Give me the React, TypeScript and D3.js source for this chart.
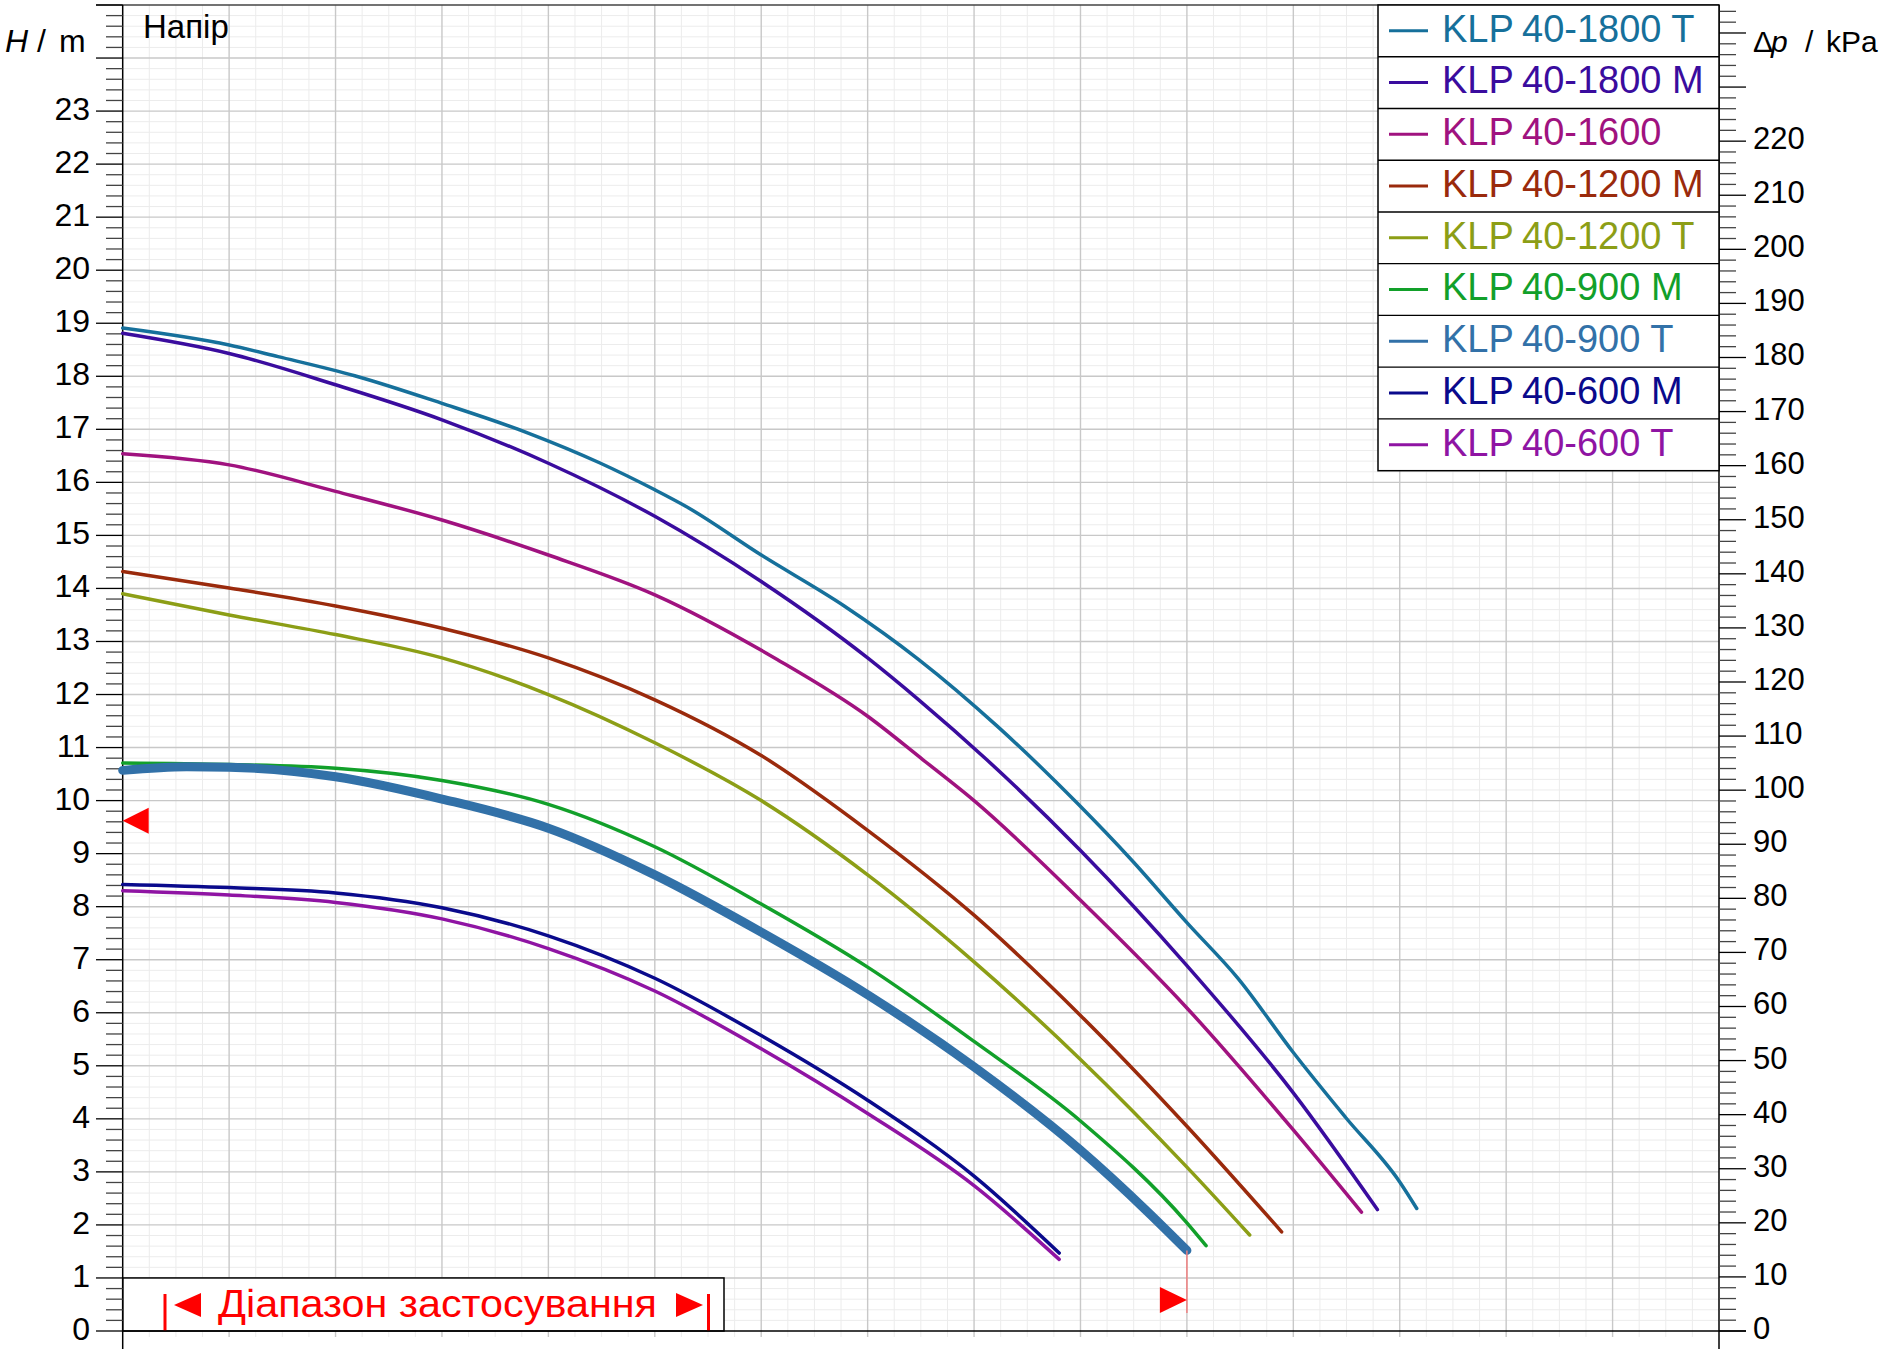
import React from "react";
import * as d3 from "d3";

const FONT = '"Liberation Sans", Arial, sans-serif';

// x: flow (no labels in the source), y: head in m
const qMax = 15;
const hMax = 25;
const kPaPerM = 9.807;

const leftLabels = d3.range(0, 24); // 0..23
const rightLabels = d3.range(0, 230, 10); // 0..220

// curves
const q1800T = [0, 1, 1.46, 2.18, 3, 3.81, 4.48, 5, 5.29, 6, 6.78, 7.48, 8.22, 8.98, 9.48, 10, 10.48, 11, 11.49, 12, 12.16];
const h1800T = [18.91, 18.59, 18.37, 18.01, 17.49, 16.93, 16.37, 15.86, 15.55, 14.63, 13.67, 12.66, 11.4, 9.93, 8.88, 7.7, 6.65, 5.25, 4.03, 2.81, 2.31];

const q1800M = [0, 1, 2, 3, 4, 5, 6, 7, 7.48, 8.12, 9, 10, 11, 11.79];
const h1800M = [18.81, 18.43, 17.84, 17.18, 16.36, 15.36, 14.13, 12.69, 11.9, 10.77, 9.06, 6.89, 4.49, 2.29];

const q1600 = [0, 1, 2, 3, 4, 5, 6.15, 7, 7.52, 8, 9, 10, 11, 11.64];
const h1600 = [16.54, 16.33, 15.83, 15.29, 14.63, 13.88, 12.66, 11.59, 10.77, 10.0, 8.12, 6.09, 3.79, 2.24];

const q1200M = [0, 1, 2, 3, 4, 5, 6, 7, 8, 9, 10, 10.89];
const h1200M = [14.32, 14.01, 13.67, 13.25, 12.69, 11.9, 10.85, 9.44, 7.84, 5.95, 3.86, 1.87];

const q1200T = [0, 1, 2, 3, 4, 5, 6, 7, 8, 9, 10, 10.59];
const h1200T = [13.9, 13.5, 13.13, 12.69, 12.0, 11.09, 10.0, 8.6, 6.96, 5.12, 3.09, 1.81];

const q900M = [0, 1, 2, 3, 4, 5, 6, 7, 8, 9, 10, 10.18];
const h900M = [10.71, 10.68, 10.61, 10.38, 9.93, 9.13, 8.05, 6.86, 5.46, 3.96, 2.04, 1.61];

const q900T = [0, 0.6, 1, 2, 3, 4, 5, 6, 7, 8, 9, 9.63, 10];
const h900T = [10.57, 10.64, 10.63, 10.45, 10.03, 9.48, 8.6, 7.52, 6.34, 4.98, 3.41, 2.25, 1.52];

const q600M = [0, 1, 2, 3, 4, 5, 6, 7, 8, 8.8];
const h600M = [8.42, 8.36, 8.26, 7.98, 7.45, 6.65, 5.57, 4.35, 2.92, 1.47];

const q600T = [0, 1, 2, 3, 4, 5, 6, 7, 8, 8.8];
const h600T = [8.3, 8.22, 8.08, 7.77, 7.21, 6.41, 5.32, 4.1, 2.74, 1.35];

const names = ["40-1800 T", "40-1800 M", "40-1600", "40-1200 M", "40-1200 T", "40-900 M", "40-900 T", "40-600 M", "40-600 T"];
const colors = ["#16709b", "#3a0c9e", "#a0127f", "#9a2a0c", "#8c9e16", "#12a02a", "#3271a8", "#0a0a8c", "#8f14a3"];
const qs = [q1800T, q1800M, q1600, q1200M, q1200T, q900M, q900T, q600M, q600T];
const hs = [h1800T, h1800M, h1600, h1200M, h1200T, h900M, h900T, h600M, h600T];
const selected = 6; // 40-900 T drawn thick

// markers
const markerH = 9.62; // red mark on the head axis
const rangeEndQ = 10; // end of the selected curve

export default function App() {
  const x = d3.scaleLinear().domain([0, qMax]).range([122.7, 1719]);
  const y = d3.scaleLinear().domain([0, hMax]).range([1331, 5]);
  const yk = d3.scaleLinear().domain([0, hMax * kPaPerM]).range([1331, 5]);

  const line = d3
    .line<[number, number]>()
    .x((d) => x(d[0]))
    .y((d) => y(d[1]))
    .curve(d3.curveMonotoneX);

  const x0 = x(0);
  const x1 = x(qMax);
  const yBot = y(0);
  const yTop = y(hMax);

  const vMinor = d3.range(0, qMax * 4 + 1).map((i) => i / 4).filter((v) => v % 1 !== 0);
  const vMajor = d3.range(1, qMax);
  const hMinor = d3.range(0, hMax * 5 + 1).map((i) => i / 5).filter((v) => Math.abs(v - Math.round(v)) > 1e-6);
  const hMajor = d3.range(1, hMax);

  const lMinor = hMinor;
  const lMajor = d3.range(0, hMax + 1);
  const rMinor = d3.range(0, 123).map((i) => i * 2).filter((v) => v % 10 !== 0);
  const rMajor = d3.range(0, 250, 10);

  // legend layout
  const lgX = 1378;
  const lgTop = yTop;
  const lgBottom = 470.7;
  const rowH = (lgBottom - lgTop) / names.length;

  // range box
  const boxRight = 724;
  const boxTop = y(1);

  const order = d3.range(names.length).filter((i) => i !== selected).concat([selected]);

  const endX = x(rangeEndQ);
  const endY = y(h900T[h900T.length - 1]);

  return (
    <div style={{ position: "absolute", left: 0, top: 0 }}>
      <svg width={1887} height={1349} style={{ display: "block", background: "#fff" }} fontFamily={FONT}>
        {/* grid */}
        <g>
          {vMinor.map((v) => (
            <line key={"vm" + v} x1={x(v)} x2={x(v)} y1={yTop} y2={yBot + 6} stroke="#ececec" strokeWidth={1} />
          ))}
          {hMinor.map((v) => (
            <line key={"hm" + v} x1={x0} x2={x1} y1={y(v)} y2={y(v)} stroke="#ececec" strokeWidth={1} />
          ))}
          {vMajor.map((v) => (
            <line key={"vM" + v} x1={x(v)} x2={x(v)} y1={yTop} y2={yBot + 6} stroke="#c8c8c8" strokeWidth={1.4} />
          ))}
          {hMajor.map((v) => (
            <line key={"hM" + v} x1={x0} x2={x1} y1={y(v)} y2={y(v)} stroke="#c8c8c8" strokeWidth={1.4} />
          ))}
        </g>

        {/* application range box */}
        <rect x={x0} y={boxTop} width={boxRight - x0} height={yBot - boxTop} fill="#fff" stroke="#000" strokeWidth={1.5} />
        <line x1={165} x2={165} y1={1294} y2={yBot} stroke="#f00" strokeWidth={3} />
        <line x1={708.5} x2={708.5} y1={1294} y2={yBot} stroke="#f00" strokeWidth={3} />
        <polygon points="174,1305 201,1293 201,1317" fill="#f00" />
        <polygon points="703,1305 676,1293 676,1317" fill="#f00" />
        <text x={218} y={1317} fontSize={38} fill="#f00" textLength={439} lengthAdjust="spacingAndGlyphs">
          Діапазон застосування
        </text>

        {/* axes */}
        <line x1={96} x2={x1} y1={yTop} y2={yTop} stroke="#444" strokeWidth={1.5} />
        <line x1={x0} x2={1746} y1={yBot} y2={yBot} stroke="#000" strokeWidth={1.5} />
        <line x1={x0} x2={x0} y1={yTop} y2={1349} stroke="#000" strokeWidth={1.5} />
        <line x1={x1} x2={x1} y1={yTop} y2={1349} stroke="#000" strokeWidth={1.5} />

        {lMinor.map((v) => (
          <line key={"lm" + v} x1={106} x2={x0} y1={y(v)} y2={y(v)} stroke="#444" strokeWidth={1.3} />
        ))}
        {lMajor.map((v) => (
          <line key={"lM" + v} x1={96} x2={x0} y1={y(v)} y2={y(v)} stroke="#000" strokeWidth={1.3} />
        ))}
        {rMinor.map((v) => (
          <line key={"rm" + v} x1={x1} x2={1736} y1={yk(v)} y2={yk(v)} stroke="#444" strokeWidth={1.3} />
        ))}
        {rMajor.map((v) => (
          <line key={"rM" + v} x1={x1} x2={1746} y1={yk(v)} y2={yk(v)} stroke="#000" strokeWidth={1.3} />
        ))}

        {leftLabels.map((v) => (
          <text key={"ll" + v} x={90} y={y(v) + 9} fontSize={32} textAnchor="end" fill="#000">
            {v}
          </text>
        ))}
        {rightLabels.map((v) => (
          <text key={"rl" + v} x={1753} y={yk(v) + 8} fontSize={31} fill="#000">
            {v}
          </text>
        ))}

        <text y={52} fontSize={32} fill="#000">
          <tspan x={5} fontStyle="italic">H</tspan>
          <tspan x={37}>/</tspan>
          <tspan x={59}>m</tspan>
        </text>
        <text x={143} y={38} fontSize={33} fill="#000">
          Напір
        </text>
        <text y={52} fontSize={30} fill="#000">
          <tspan x={1753}>Δ</tspan>
          <tspan x={1771} fontStyle="italic">p</tspan>
          <tspan x={1805}>/</tspan>
          <tspan x={1826}>kPa</tspan>
        </text>

        {/* curves */}
        {order.map((i) => (
          <path
            key={"c" + i}
            d={line(qs[i].map((q, k) => [q, hs[i][k]] as [number, number])) || ""}
            fill="none"
            stroke={colors[i]}
            strokeWidth={i === selected ? 9 : 3.5}
            strokeLinecap="round"
            strokeLinejoin="round"
          />
        ))}

        {/* markers */}
        <polygon points={`${x0},${y(markerH)} ${x0 + 26},${y(markerH) - 13} ${x0 + 26},${y(markerH) + 13}`} fill="#f00" />
        <line x1={endX} x2={endX} y1={endY} y2={1313} stroke="#f08080" strokeWidth={1.5} />
        <polygon points={`${endX},1300 ${endX - 27},1287 ${endX - 27},1313`} fill="#f00" />

        {/* legend */}
        <rect x={lgX} y={lgTop} width={x1 - lgX} height={lgBottom - lgTop} fill="#fff" stroke="#000" strokeWidth={1.5} />
        {names.map((n, i) => {
          const top = lgTop + i * rowH;
          const cy = top + rowH / 2;
          return (
            <g key={"lg" + i}>
              {i > 0 && <line x1={lgX} x2={x1} y1={top} y2={top} stroke="#000" strokeWidth={1.3} />}
              <line x1={1389} x2={1428} y1={cy} y2={cy} stroke={colors[i]} strokeWidth={3} />
              <text x={1442} y={top + 36.7} fontSize={38} fill={colors[i]}>
                KLP
              </text>
              <text x={1522} y={top + 36.7} fontSize={38} fill={colors[i]}>
                {n}
              </text>
            </g>
          );
        })}
      </svg>
    </div>
  );
}
